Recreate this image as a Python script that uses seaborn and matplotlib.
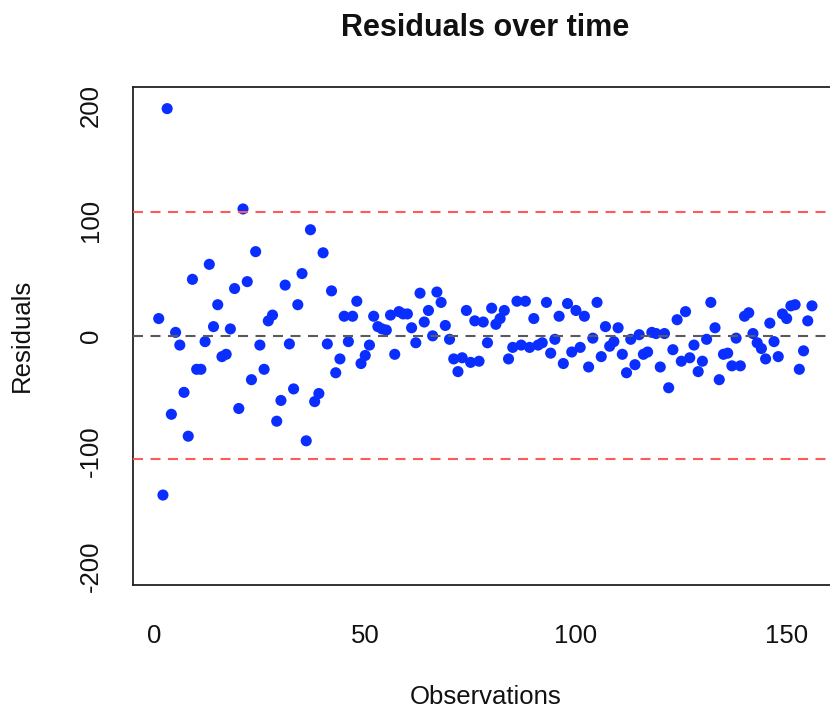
import matplotlib
matplotlib.use("Agg")
import matplotlib.pyplot as plt
import pandas as pd
import seaborn as sns

# ---- data ----
residuals = [
    15, -138, 197, -68, 3, -8, -49, -87, 49, -29,
    -29, -5, 62, 8, 27, -18, -16, 6, 41, -63,
    110, 47, -38, 73, -8, -29, 13, 18, -74, -56,
    44, -7, -46, 27, 54, -91, 92, -57, -50, 72,
    -7, 39, -32, -20, 17, -5, 17, 30, -24, -17,
    -8, 17, 8, 6, 5, 18, -16, 21, 19, 19,
    7, -6, 37, 12, 22, 0, 38, 29, 9, -3,
    -20, -31, -19, 22, -23, 13, -22, 12, -6, 24,
    10, 15, 22, -20, -10, 30, -8, 30, -10, 15,
    -8, -6, 29, -15, -3, 17, -24, 28, -14, 22,
    -10, 17, -27, -2, 29, -18, 8, -9, -5, 7,
    -16, -32, -3, -25, 1, -16, -14, 3, 2, -27,
    2, -45, -12, 14, -22, 21, -19, -8, -31, -22,
    -3, 29, 7, -38, -16, -15, -26, -2, -26, 17,
    20, 2, -6, -11, -20, 11, -5, -18, 19, 15,
    26, 27, -29, -13, 13, 26,
]
observations = list(range(1, len(residuals) + 1))
threshold = 107
x_ticks = [0, 50, 100, 150]
y_ticks = [-200, -100, 0, 100, 200]
title = "Residuals over time"
x_label = "Observations"
y_label = "Residuals"

# ---- style ----
sns.set_style("white")
plt.rcParams["font.family"] = ["Liberation Sans", "DejaVu Sans"]

W, H = 830, 711
fig = plt.figure(figsize=(W / 100, H / 100), dpi=100)
left_px, right_px, top_px, bottom_px = 132.6, 838.1, 86.7, 585.0
ax = fig.add_axes([left_px / W, (H - bottom_px) / H,
                   (right_px - left_px) / W, (bottom_px - top_px) / H])

df = pd.DataFrame({"Observations": observations, "Residuals": residuals})
sns.scatterplot(data=df, x="Observations", y="Residuals", ax=ax,
                color="#0a2eff", s=64, edgecolor="none", linewidth=0, zorder=3)

dash = (0, (4.8, 3.6))
ax.axhline(0, color="#5a5a5a", lw=1.5, linestyle=dash, zorder=4)
ax.axhline(threshold, color="#ff5a5a", lw=1.5, linestyle=dash, zorder=4)
ax.axhline(-threshold, color="#ff5a5a", lw=1.5, linestyle=dash, zorder=4)

ax.set_xlim(-5.2, 162.2)
ax.set_ylim(-216, 216)
ax.set_xticks(x_ticks)
ax.set_yticks(y_ticks)
ax.set_xticklabels([str(v) for v in x_ticks])
ax.set_yticklabels([str(v) for v in y_ticks])

for side in ["left", "bottom", "top", "right"]:
    ax.spines[side].set_color("#222222")
    ax.spines[side].set_linewidth(1.3)

ax.tick_params(axis="both", direction="out", length=11.5, width=1.3,
               color="#222222", labelsize=18.5, labelcolor="#111111")
ax.tick_params(axis="x", pad=16.5)
ax.tick_params(axis="y", pad=10, labelrotation=90)
for lab in ax.get_yticklabels():
    lab.set_va("center")

ax.set_xlabel(x_label, fontsize=18.5, color="#111111")
ax.set_ylabel(y_label, fontsize=18.5, color="#111111")
ax.xaxis.set_label_coords(0.5, -0.2248)
ax.xaxis.label.set_va("center")
ax.yaxis.set_label_coords(-0.1568, 0.5)
ax.yaxis.label.set_va("center")

ax.set_title(title, fontsize=22, fontweight="bold", color="#111111",
             y=1.1017, va="baseline", pad=0)

fig.savefig("out.png", dpi=100)
